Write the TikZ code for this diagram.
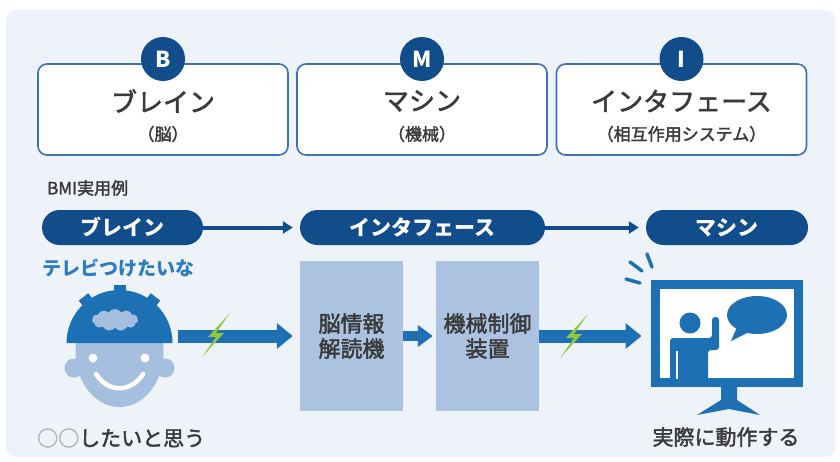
\documentclass[tikz,border=0pt]{standalone}
\usepackage{fontspec}
\newfontfamily\jp{Noto Sans CJK JP}
\newfontfamily\jpmed{Noto Sans CJK JP}[FakeBold=2]
\usetikzlibrary{arrows.meta,shapes.symbols,shapes.misc}

\definecolor{panel}{HTML}{EEF3F9}
\definecolor{boxline}{HTML}{3F6FB6}
\definecolor{navy}{HTML}{114C8B}
\definecolor{brightblue}{HTML}{1E70B5}
\definecolor{facecol}{HTML}{A6BFDE}
\definecolor{greybox}{HTML}{ABC2E0}
\definecolor{textgrey}{HTML}{3A3A3A}
\definecolor{wishblue}{HTML}{2C7CC1}
\definecolor{bolt}{HTML}{8DC63F}

\newcommand\setfs[1]{\fontsize{#1}{#1}\selectfont}

\tikzset{
  topbox/.style={draw=boxline, line width=1.6pt, fill=white, rounded corners=9pt,
    minimum width=250pt, minimum height=91pt, inner sep=0pt},
  badge/.style={circle, fill=navy, text=white, minimum size=44pt, inner sep=0pt,
    font=\jp\bfseries\setfs{22}},
  titletext/.style={text=textgrey, font=\jpmed\setfs{26}, inner sep=0pt},
  subtext/.style={text=textgrey, font=\jpmed\setfs{17}, inner sep=0pt},
  pill/.style={rounded rectangle, fill=navy, text=white, minimum height=35pt,
    inner sep=0pt, font=\jp\bfseries\setfs{21}},
  thinarrow/.style={draw=navy, line width=4pt, -{Triangle[width=12pt,length=10pt]}},
  bigarrow/.style={draw=brightblue, line width=13pt, -{Triangle[width=25pt,length=16pt]}},
  midarrow/.style={draw=brightblue, line width=10pt, -{Triangle[width=21pt,length=15pt]}},
  devicebox/.style={fill=greybox, minimum width=103pt, minimum height=150pt, inner sep=0pt,
    text=textgrey, align=center, font=\jpmed\setfs{22}},
  boltshape/.style={fill=bolt},
  ray/.style={draw=brightblue, line width=3.5pt, line cap=round},
}

\begin{document}
\begin{tikzpicture}[x=1pt, y=-1pt]
\useasboundingbox (0,0) rectangle (840,461);
\fill[white] (0,0) rectangle (840,461);
\fill[panel, rounded corners=10pt] (6,10) rectangle (835,457);

% ---- B / M / I header boxes ----
\node[topbox] (boxB) at (163,109.5) {};
\node[topbox] (boxM) at (422,109.5) {};
\node[topbox] (boxI) at (681.5,109.5) {};
\node[badge] (badgeB) at (163,59) {B};
\node[badge] (badgeM) at (422,59) {M};
\node[badge] (badgeI) at (681.5,59) {I};
\node[titletext] (tB) at (163,101) {ブレイン};
\node[subtext]   (sB) at (163,134) {（脳）};
\node[titletext] (tM) at (422,101) {マシン};
\node[subtext]   (sM) at (422,134) {（機械）};
\node[titletext] (tI) at (681.5,101) {インタフェース};
\node[subtext]   (sI) at (681.5,134) {（相互作用システム）};

% ---- example flow ----
\node[anchor=west, text=textgrey, font=\jpmed\setfs{17}, inner sep=0pt] (ex) at (47,188) {BMI実用例};

\node[pill, minimum width=161pt] (pB) at (122.5,227.5) {ブレイン};
\node[pill, minimum width=245pt] (pI) at (422.5,227.5) {インタフェース};
\node[pill, minimum width=162pt] (pM) at (727,227.5) {マシン};
\draw[thinarrow] (pB.east) -- ([xshift=-7pt]pI.west);
\draw[thinarrow] (pI.east) -- ([xshift=-7pt]pM.west);

\node[anchor=west, text=wishblue, font=\jp\bfseries\setfs{19}, inner sep=0pt] (wish) at (42,268) {テレビつけたいな};

% ---- person wearing the sensor helmet ----
\fill[facecol] (74,368) circle[radius=9.5];
\fill[facecol] (165,368) circle[radius=9.5];
\fill[facecol] (119.5,352) ellipse[x radius=44, y radius=55];
\fill[white] (93,358) circle[radius=4.5];
\fill[white] (145,358) circle[radius=4.5];
\draw[white, line width=4.5pt, line cap=round] (96,374) .. controls (108,393) and (131,393) .. (143,374);
\fill[brightblue] (66.5,343) arc[start angle=180, end angle=360, radius=53] -- cycle;
\foreach \a in {90,128,52}{
  \fill[brightblue, rotate around={-\a+90:(119.5,343)}] (113.5,284.5) rectangle (125.5,292);
}
\node[cloud, cloud puffs=11, cloud puff arc=120, aspect=2.2, fill=facecol,
  minimum width=46pt, minimum height=22pt, inner sep=0pt] (thought) at (115,320) {};
\coordinate (headout) at (178,336);

% ---- decoder and controller ----
\node[devicebox] (dec) at (351.5,336) {脳情報\\[3pt]解読機};
\node[devicebox] (ctl) at (487.5,336) {機械制御\\[3pt]装置};

% ---- monitor ----
\node[draw=brightblue, line width=9pt, fill=white, minimum width=143pt,
  minimum height=98pt, inner sep=0pt] (mon) at (727,333.5) {};
\fill[brightblue] (721,387) -- (737,387) -- (737,400) -- (760,415) -- (729,409)
  -- (697,415) -- (721,400) -- cycle;
% presenter
\fill[brightblue] (690,323) circle[radius=10.5];
\fill[brightblue, rounded corners=3pt] (670,378.5) -- (670,338) -- (712,338) -- (712,317)
  -- (719,317) -- (719,350) -- (708,350) [sharp corners] -- (708,378.5) -- cycle;
\draw[white, line width=2pt] (677,351) -- (677,378.5);
% speech bubble
\fill[brightblue] (757,315) ellipse[x radius=30, y radius=19];
\fill[brightblue] (737,327) -- (749,332) -- (731,341) -- cycle;
% attention rays
\draw[ray] (626,279) -- (640,283);
\draw[ray] (630,262) -- (642,271);
\draw[ray] (647,254) -- (652,267);

% ---- signal arrows ----
\draw[bigarrow] (headout) -- ([xshift=-7pt]dec.west);
\draw[midarrow] (dec.east) -- ([xshift=-3pt]ctl.west);
\draw[bigarrow] (ctl.east) -- ([xshift=-9.5pt]ctl.east -| mon.west);
\fill[boltshape] (216,335) ++(14,-22) -- ++(-22,24) -- ++(8,0) -- ++(-14,20)
  -- ++(22,-24) -- ++(-8,0) -- cycle;
\fill[boltshape] (574,336) ++(14,-22) -- ++(-22,24) -- ++(8,0) -- ++(-14,20)
  -- ++(22,-24) -- ++(-8,0) -- cycle;

% ---- captions ----
\node[anchor=west, text=textgrey, font=\jpmed\setfs{21}, inner sep=0pt] (capB) at (37,438)
  {{\color{gray!60}○○}したいと思う};
\node[text=textgrey, font=\jpmed\setfs{21}, inner sep=0pt] (capM) at (726,437) {実際に動作する};
\end{tikzpicture}
\end{document}
